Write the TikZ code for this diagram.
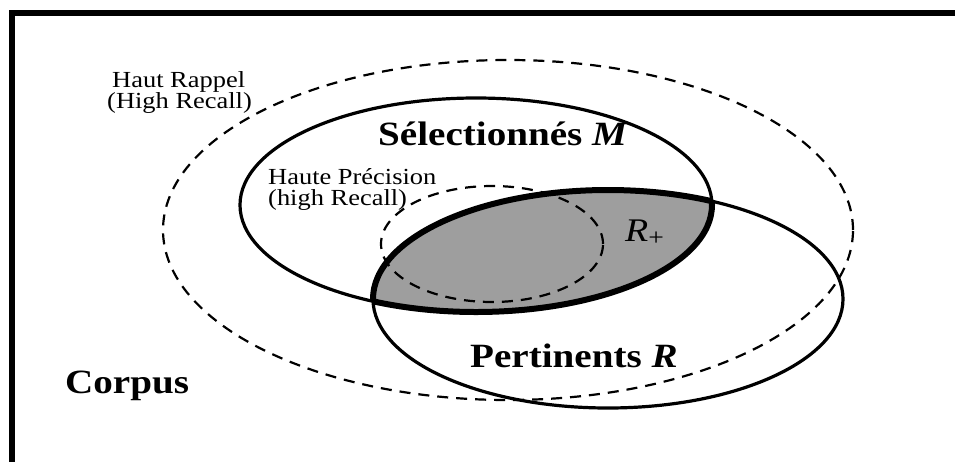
\documentclass[tikz,border=0pt]{standalone}
\usepackage{fontspec}
\setmainfont{Liberation Serif}
\usepackage{graphicx}
\definecolor{lensgray}{RGB}{158,158,158}
\newcommand{\stretchtext}[1]{\scalebox{1.15}[1]{#1}}
\begin{document}
\begin{tikzpicture}[x=1pt,y=-1pt,
  lbl/.style={inner sep=0pt, anchor=base west},
  big/.style={font=\fontsize{34}{40}\selectfont\bfseries},
  small/.style={font=\fontsize{23}{27}\selectfont},
  setline/.style={line width=3.2pt},
  lensline/.style={line width=6pt},
  dashline/.style={line width=2.2pt, dash pattern=on 11pt off 8pt}]
\useasboundingbox (0,0) rectangle (955,461);
\clip (0,0) rectangle (955,461);
\fill[white] (0,0) rectangle (955,461);
% frame (left and top sides visible)
\draw[line width=6pt] (11.5,480) -- (11.5,13) -- (980,13);
% lens fill
\begin{scope}
  \clip (476,205) ellipse [x radius=236pt, y radius=107pt];
  \fill[lensgray] (608,299) ellipse [x radius=235pt, y radius=109pt];
\end{scope}
% dashed ellipses
\draw[dashline] (508,230) ellipse [x radius=345pt, y radius=170pt];
\draw[dashline] (492,244) ellipse [x radius=111pt, y radius=58pt];
% solid ellipses
\draw[setline] (476,205) ellipse [x radius=236pt, y radius=107pt];
\draw[setline] (608,299) ellipse [x radius=235pt, y radius=109pt];
% thicker lens outline
\begin{scope}
  \clip (476,205) ellipse [x radius=236pt, y radius=107pt];
  \draw[lensline] (608,299) ellipse [x radius=235pt, y radius=109pt];
\end{scope}
\begin{scope}
  \clip (608,299) ellipse [x radius=235pt, y radius=109pt];
  \draw[lensline] (476,205) ellipse [x radius=236pt, y radius=107pt];
\end{scope}
% labels
\node[lbl, small] (hr1) at (112,87) {\stretchtext{Haut Rappel}};
\node[lbl, small] (hr2) at (107,108) {\stretchtext{(High Recall)}};
\node[lbl, big] (sel) at (378,145) {\stretchtext{Sélectionnés \textit{M}}};
\node[lbl, small] (hp1) at (268,184) {\stretchtext{Haute Précision}};
\node[lbl, small] (hp2) at (268,205) {\stretchtext{(high Recall)}};
\node[lbl, font=\fontsize{33}{36}\selectfont] (rplus) at (625,241) {\stretchtext{\textit{R}\raisebox{-4pt}{\fontsize{24}{24}\selectfont +}}};
\node[lbl, big] (pert) at (470,367) {\stretchtext{Pertinents \textit{R}}};
\node[lbl, big] (corpus) at (65,393) {\stretchtext{Corpus}};
\end{tikzpicture}
\end{document}
